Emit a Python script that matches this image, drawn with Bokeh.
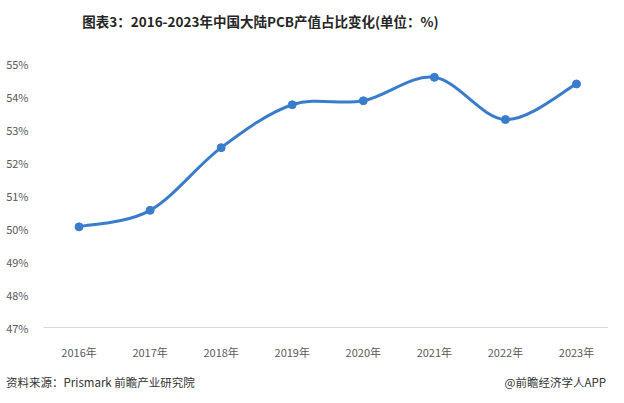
from bokeh.plotting import figure
from bokeh.layouts import column
from bokeh.models import Range1d, FixedTicker, PrintfTickFormatter, Label, ColumnDataSource, Div
from bokeh.embed import file_html
from bokeh.resources import INLINE

# ---- data ----
years = ["2016年", "2017年", "2018年", "2019年", "2020年", "2021年", "2022年", "2023年"]
share = [50.05, 50.55, 52.45, 53.75, 53.87, 54.58, 53.30, 54.38]
y_ticks = [47, 48, 49, 50, 51, 52, 53, 54, 55]

title_text = "图表3：2016-2023年中国大陆PCB产值占比变化(单位：%)"
source_text = "资料来源：Prismark 前瞻产业研究院"
brand_text = "@前瞻经济学人APP"

FONT = "Noto Sans CJK SC"
W = 608
HEAD_H, MAIN_H, FOOT_H = 43, 319, 30
ML, MR, MT, MB = 43, 0, 20, 34

# ---- header ----
head = figure(width=W, height=HEAD_H, output_backend="svg", toolbar_location=None,
              x_axis_type=None, y_axis_type=None, min_border=0,
              x_range=Range1d(0, 1), y_range=Range1d(0, 1))
head.outline_line_color = None
head.xgrid.grid_line_color = None
head.ygrid.grid_line_color = None
head.border_fill_color = "white"
# frame is aligned with the main chart's frame (left edge at ML)
head.add_layout(Label(x=260 - ML, y=HEAD_H - 20, x_units="screen", y_units="screen", text=title_text,
                      text_align="center", text_baseline="middle", text_font=FONT,
                      text_font_size="13.5px", text_font_style="bold", text_color="#262626"))

# ---- main chart ----
xs = list(range(len(years)))
p = figure(width=W, height=MAIN_H, output_backend="svg", toolbar_location=None,
           x_range=Range1d(-0.5, len(years) - 0.55), y_range=Range1d(y_ticks[0], y_ticks[-1]),
           min_border_left=ML, min_border_right=MR, min_border_top=MT, min_border_bottom=MB)
p.outline_line_color = None
p.xgrid.grid_line_color = None
p.ygrid.grid_line_color = None
p.background_fill_color = "white"
p.border_fill_color = "white"

p.xaxis.ticker = FixedTicker(ticks=xs)
p.xaxis.major_label_overrides = {i: y for i, y in enumerate(years)}
p.xaxis.axis_line_color = "#d9d9d9"
p.xaxis.axis_line_width = 1
p.xaxis.major_tick_line_color = None
p.xaxis.minor_tick_line_color = None
p.xaxis.major_label_standoff = 10
p.xaxis.major_label_text_font = FONT
p.xaxis.major_label_text_font_size = "11px"
p.xaxis.major_label_text_color = "#595959"

p.yaxis.ticker = FixedTicker(ticks=y_ticks)
p.yaxis.formatter = PrintfTickFormatter(format="%d%%")
p.yaxis.axis_line_color = None
p.yaxis.major_tick_line_color = None
p.yaxis.minor_tick_line_color = None
p.yaxis.major_label_standoff = 9
p.yaxis.major_label_text_font = FONT
p.yaxis.major_label_text_font_size = "11px"
p.yaxis.major_label_text_color = "#595959"

# smooth line: cubic Bezier segments with Catmull-Rom control points from the data
n = len(xs)
x0, y0, x1, y1, cx0, cy0, cx1, cy1 = [], [], [], [], [], [], [], []
for i in range(n - 1):
    pm = (xs[max(i - 1, 0)], share[max(i - 1, 0)])
    pa = (xs[i], share[i])
    pb = (xs[i + 1], share[i + 1])
    pn = (xs[min(i + 2, n - 1)], share[min(i + 2, n - 1)])
    x0.append(pa[0]); y0.append(pa[1]); x1.append(pb[0]); y1.append(pb[1])
    cx0.append(pa[0] + (pb[0] - pm[0]) / 6.0); cy0.append(pa[1] + (pb[1] - pm[1]) / 6.0)
    cx1.append(pb[0] - (pn[0] - pa[0]) / 6.0); cy1.append(pb[1] - (pn[1] - pa[1]) / 6.0)
bsrc = ColumnDataSource(dict(x0=x0, y0=y0, x1=x1, y1=y1, cx0=cx0, cy0=cy0, cx1=cx1, cy1=cy1))
LINE = "#3a7ccc"
p.bezier(x0="x0", y0="y0", x1="x1", y1="y1", cx0="cx0", cy0="cy0", cx1="cx1", cy1="cy1",
         source=bsrc, line_color=LINE, line_width=3)
p.scatter(xs, share, size=8, fill_color=LINE, line_color=LINE)

# ---- footer ----
foot_html = (
    '<div style="display:flex;justify-content:space-between;box-sizing:border-box;'
    f'width:{W}px;padding:13px 2px 0 6px;font-family:\'{FONT}\';font-size:11.5px;'
    'line-height:14px;color:#333333;white-space:nowrap;">'
    f'<span>{source_text}</span><span>{brand_text}</span></div>'
)
foot = Div(text=foot_html, width=W, height=FOOT_H, margin=0)

layout = column(head, p, foot, spacing=0)
open("out.html", "w").write(file_html(layout, INLINE))
